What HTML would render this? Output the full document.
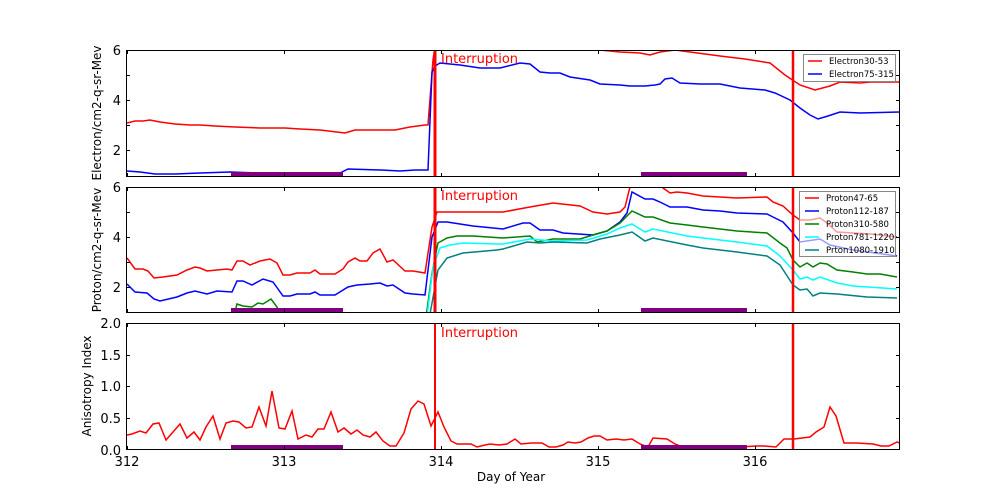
<!DOCTYPE html><html><head><style>body{margin:0;background:#fff}svg{display:block}text{font-family:"DejaVu Sans","Liberation Sans",sans-serif}</style></head><body>
<svg width="1000" height="500" viewBox="0 0 1000 500" xmlns="http://www.w3.org/2000/svg">
<defs>
<clipPath id="c1"><rect x="126" y="50" width="774" height="127"/></clipPath>
<clipPath id="c2"><rect x="126" y="187" width="774" height="126"/></clipPath>
<clipPath id="c3"><rect x="126" y="323" width="774" height="127"/></clipPath>
</defs>
<rect width="1000" height="500" fill="#fff"/>
<!-- Panel 1 -->
<g clip-path="url(#c1)" fill="none" stroke-width="1.5">
<polyline stroke="#f00" points="127,123 135,121 143,121 150,120 160,122 175,124 190,125 200,125 215,126 235,127 260,128 285,128 300,129 320,130 345,133 355,130 380,130 395,130 410,127 425,125 428,125 433,60 436,40"/>
<polyline stroke="#f00" points="590,45 600,50 620,52 640,53 650,55 660,52 675,50 690,52 720,56 745,59 770,63 785,75 800,85 815,90 830,86 840,82 860,83 870,82 900,82"/>
<polyline stroke="#00f" points="127,171 140,172 155,174 175,174 200,173 230,172 260,173 290,173 340,173 348,169 380,170 400,171 415,170 428,170 432,72 435,66 440,63 460,65 480,68 500,68 520,63 530,64 540,72 550,73 560,73 570,77 590,80 600,84 620,85 630,86 645,86 655,85 660,84 665,79 672,78 680,83 700,84 720,84 740,88 765,90 775,93 790,100 800,108 810,115 818,119 828,116 840,112 860,113 900,112"/>
</g>
<rect x="231" y="172" width="112" height="5" fill="#800080"/>
<rect x="641" y="172" width="106" height="5" fill="#800080"/>
<line x1="435" y1="50" x2="435" y2="177" stroke="#f00" stroke-width="3"/>
<line x1="793" y1="50" x2="793" y2="177" stroke="#f00" stroke-width="2.5"/>
<text x="441" y="63" font-size="13" fill="#f00">Interruption</text>
<!-- Panel 2 -->
<g clip-path="url(#c2)" fill="none" stroke-width="1.5">
<polyline stroke="#f00" points="127,258 135,269 143,269 148,271 154,278 163,277 177,275 187,270 195,267 200,268 207,271 217,270 227,269 232,270 237,261 243,261 250,265 260,261 270,259 277,263 283,275 290,275 297,273 310,273 315,270 320,274 335,274 343,269 348,262 355,258 360,261 367,261 373,253 380,249 387,262 393,260 405,271 413,271 425,273 432,227 437,212 440,212 503,212 530,207 553,203 580,206 593,212 607,214 620,212 625,207 630,187 633,175"/>
<polyline stroke="#f00" points="660,180 663,188 670,193 677,192 687,193 703,196 720,197 737,198 767,197 773,202 783,206 793,215 800,220 810,220 820,218 827,223 837,232 853,233 870,234 897,237"/>
<polyline stroke="#00f" points="127,284 135,292 147,293 154,299 160,301 177,297 187,293 195,291 207,294 217,291 232,292 237,281 243,281 252,285 263,279 273,282 283,296 290,296 297,294 310,294 315,292 320,295 335,295 348,287 357,285 370,284 380,283 387,286 393,285 405,293 413,294 425,295 432,237 438,222 447,222 473,226 503,229 523,223 530,223 540,230 553,230 563,233 593,235 607,231 620,222 627,213 632,192 645,199 653,199 660,202 670,207 687,207 703,210 720,211 737,213 767,214 773,217 783,222 793,233 800,242 820,239 830,245 853,250 897,256"/>
<polyline stroke="#008000" points="233,320 237,304 243,306 252,307 258,303 263,304 271,299 277,307 280,313 283,320"/>
<polyline stroke="#008000" points="425,325 432,273 438,243 447,238 457,236 473,236 503,238 530,236 537,242 553,239 580,239 593,235 607,231 620,223 632,211 645,217 653,217 670,223 687,225 703,227 737,231 767,233 780,243 787,248 793,260 800,267 807,263 813,267 820,263 827,264 837,270 853,272 867,274 880,274 897,277"/>
<polyline stroke="#0ff" points="426,325 433,267 440,248 450,245 463,243 497,244 503,244 530,239 553,241 587,240 607,234 620,228 632,224 645,232 653,229 687,236 703,238 737,242 767,246 780,256 793,270 800,279 807,277 813,280 820,277 837,283 853,286 897,289"/>
<polyline stroke="#008080" points="428,325 438,270 447,258 463,253 497,250 503,249 527,242 540,243 553,242 587,243 600,239 620,235 632,232 645,241 653,238 687,245 703,248 737,252 767,256 780,265 793,285 800,290 807,289 813,296 820,293 837,294 867,297 897,298"/>
</g>
<rect x="231" y="308" width="112" height="5" fill="#800080"/>
<rect x="641" y="308" width="106" height="5" fill="#800080"/>
<line x1="435" y1="187" x2="435" y2="313" stroke="#f00" stroke-width="3"/>
<line x1="793" y1="187" x2="793" y2="313" stroke="#f00" stroke-width="2.5"/>
<text x="441" y="200" font-size="13" fill="#f00">Interruption</text>
<!-- Panel 3 -->
<g clip-path="url(#c3)" fill="none" stroke-width="1.5">
<polyline stroke="#f00" points="127,435 132,434 140,431 146,433 153,424 159,423 166,440 180,424 187,438 194,432 200,440 206,427 213,416 220,439 226,423 233,421 239,422 246,428 252,427 259,407 266,426 272,391 279,428 285,429 292,411 298,439 306,435 312,437 318,429 324,429 331,412 338,432 344,428 351,434 357,430 363,435 370,437 376,432 383,441 390,446 396,446 404,433 411,409 418,401 424,404 431,426 438,412 444,427 451,441 457,444 471,444 477,447 485,445 490,444 499,445 507,444 515,439 521,444 531,443 542,443 549,447 556,447 563,445 568,442 575,443 581,442 588,438 594,436 600,436 607,440 616,439 624,440 632,439 640,444 648,447 653,438 667,439 675,444 680,446 700,447 740,447 756,446 764,446 776,447 784,439 794,439 802,438 810,437 816,432 824,427 830,407 836,416 844,443 857,443 873,444 881,446 889,446 897,442 900,443"/>
</g>
<rect x="231" y="445" width="112" height="5" fill="#800080"/>
<rect x="641" y="445" width="106" height="5" fill="#800080"/>
<line x1="435" y1="323" x2="435" y2="450" stroke="#f00" stroke-width="2"/>
<line x1="793" y1="323" x2="793" y2="450" stroke="#f00" stroke-width="2.5"/>
<text x="441" y="337" font-size="13" fill="#f00">Interruption</text>
<!-- Axes frames & ticks -->
<g stroke="#000" fill="none">
<rect x="126.5" y="50.5" width="773" height="126" stroke-width="1"/>
<rect x="126.5" y="187.5" width="773" height="125" stroke-width="1"/>
<rect x="126.5" y="323.5" width="773" height="126" stroke-width="1"/>
<path d="M127.5,50v4M284.5,50v4M441.5,50v4M598.5,50v4M755.5,50v4M127.5,177v-4M284.5,177v-4M441.5,177v-4M598.5,177v-4M755.5,177v-4
M127.5,187v4M284.5,187v4M441.5,187v4M598.5,187v4M755.5,187v4M127.5,313v-4M284.5,313v-4M441.5,313v-4M598.5,313v-4M755.5,313v-4
M127.5,323v4M284.5,323v4M441.5,323v4M598.5,323v4M755.5,323v4M127.5,450v-4M284.5,450v-4M441.5,450v-4M598.5,450v-4M755.5,450v-4
M126,50.5h4M126,75.5h4M126,100.5h4M126,125.5h4M126,150.5h4M900,50.5h-4M900,75.5h-4M900,100.5h-4M900,125.5h-4M900,150.5h-4
M126,187.5h4M126,212.5h4M126,237.5h4M126,262.5h4M126,287.5h4M900,187.5h-4M900,212.5h-4M900,237.5h-4M900,262.5h-4M900,287.5h-4
M126,323.5h4M126,355.5h4M126,386.5h4M126,418.5h4M900,323.5h-4M900,355.5h-4M900,386.5h-4M900,418.5h-4"/>
</g>
<g font-size="13" fill="#000" text-anchor="end">
<text x="121" y="55">6</text><text x="121" y="105">4</text><text x="121" y="155">2</text>
<text x="121" y="192">6</text><text x="121" y="242">4</text><text x="121" y="292">2</text>
<text x="121" y="328">2.0</text><text x="121" y="360">1.5</text><text x="121" y="391">1.0</text><text x="121" y="423">0.5</text><text x="121" y="455">0.0</text>
</g>
<g font-size="13" fill="#000" text-anchor="middle">
<text x="127" y="466">312</text><text x="284" y="466">313</text><text x="441" y="466">314</text><text x="598" y="466">315</text><text x="755" y="466">316</text>
<text x="511" y="481" font-size="12">Day of Year</text>
<text transform="translate(101,113) rotate(-90)" font-size="12">Electron/cm2-q-sr-Mev</text>
<text transform="translate(101,250) rotate(-90)" font-size="12">Proton/cm2-q-sr-Mev</text>
<text transform="translate(91,386) rotate(-90)" font-size="12">Anisotropy Index</text>
</g>
<!-- Legends -->
<rect x="803.5" y="54.5" width="92" height="27" fill="#fff" fill-opacity="0.8" stroke="#888"/>
<line x1="808" y1="61" x2="822" y2="61" stroke="#f00" stroke-width="1.5"/>
<line x1="808" y1="74" x2="822" y2="74" stroke="#00f" stroke-width="1.5"/>
<g font-size="8.5" fill="#000"><text x="829" y="64">Electron30-53</text><text x="829" y="77">Electron75-315</text></g>
<rect x="799.5" y="191.5" width="96" height="65" fill="#fff" fill-opacity="0.6" stroke="#888"/>
<line x1="805" y1="198" x2="819" y2="198" stroke="#f00" stroke-width="1.5"/>
<line x1="805" y1="211" x2="819" y2="211" stroke="#00f" stroke-width="1.5"/>
<line x1="805" y1="224" x2="819" y2="224" stroke="#008000" stroke-width="1.5"/>
<line x1="805" y1="237" x2="819" y2="237" stroke="#0ff" stroke-width="1.5"/>
<line x1="805" y1="250" x2="819" y2="250" stroke="#008080" stroke-width="1.5"/>
<g font-size="8.5" fill="#000"><text x="826" y="201">Proton47-65</text><text x="826" y="214">Proton112-187</text><text x="826" y="227">Proton310-580</text><text x="826" y="240">Proton781-1220</text><text x="826" y="253">Prton1080-1910</text></g>
</svg>
</body></html>
